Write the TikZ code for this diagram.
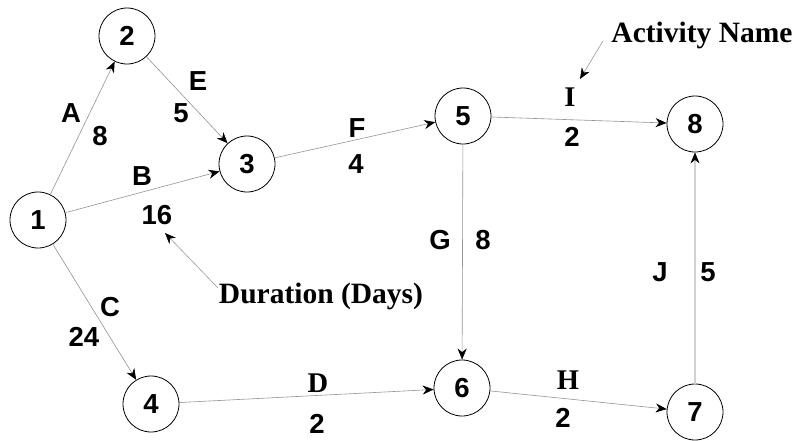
\documentclass[tikz,border=0pt]{standalone}
\usepackage{fontspec}
\setmainfont{Liberation Serif}
\setsansfont{Liberation Sans}
\usetikzlibrary{arrows.meta}
\tikzset{
  event/.style={circle, draw=black, line width=0.8pt, minimum size=56pt, inner sep=0pt,
    font=\fontsize{27.5}{27.5}\sffamily\bfseries},
  act/.style={draw=gray!85, line width=0.6pt,
    -{Stealth[length=11pt,width=9pt,inset=3.5pt,black]}},
  actlight/.style={draw=gray!35, line width=1.4pt,
    -{Stealth[length=11pt,width=9pt,inset=3.5pt,black,line width=0.6pt]}},
  note/.style={draw=gray!80, line width=0.6pt,
    -{Stealth[length=11pt,width=9pt,inset=3.5pt,black]}},
  lbl/.style={inner sep=0pt, font=\fontsize{27.5}{27.5}\sffamily\bfseries},
  lblr/.style={inner sep=0pt, font=\fontsize{28.5}{28.5}\rmfamily\bfseries},
  calltext/.style={inner sep=0pt, anchor=base, font=\fontsize{29.5}{29.5}\rmfamily\bfseries},
}
\begin{document}
\begin{tikzpicture}[x=1pt,y=-1pt]
\useasboundingbox (0,0) rectangle (796,440);

% events
\node[event] (n1) at (38,220) {1};
\node[event] (n2) at (127,36) {2};
\node[event] (n3) at (247,164) {3};
\node[event] (n4) at (151,404) {4};
\node[event] (n5) at (463,116) {5};
\node[event] (n6) at (462,388) {6};
\node[event] (n7) at (695,412) {7};
\node[event] (n8) at (695,124) {8};

% activities
\draw[act] (n1) -- (n2);
\draw[act] (n1) -- (n3);
\draw[act] (n1) -- (n4);
\draw[act] (n2) -- (n3);
\draw[act] (n3) -- (n5);
\draw[act] (n4) -- (n6);
\draw[act] (n5) -- (n8);
\draw[act] (n5) -- (n6);
\draw[act] (n6) -- (n7);
\draw[actlight] (n7) -- (n8);

% activity names and durations
\node[lbl] (lA) at (71,113) {A};
\node[lbl] (dA) at (100,136) {8};
\node[lbl] (lE) at (198,81) {E};
\node[lbl] (dE) at (181,113) {5};
\node[lbl] (lB) at (142,176) {B};
\node[lbl] (dB) at (157,215) {16};
\node[lbl] (lC) at (110,307) {C};
\node[lbl] (dC) at (84,337) {24};
\node[lbl] (lF) at (357,128) {F};
\node[lbl] (dF) at (356,164) {4};
\node[lblr] (lD) at (318,383) {D};
\node[lbl] (dD) at (317,424) {2};
\node[lbl] (lG) at (440,240) {G};
\node[lbl] (dG) at (483,240) {8};
\node[lblr] (lI) at (570,97) {I};
\node[lbl] (dI) at (572,137) {2};
\node[lblr] (lH) at (568,380) {H};
\node[lbl] (dH) at (563,418) {2};
\node[lbl] (lJ) at (660,272) {J};
\node[lbl] (dJ) at (708,272) {5};

% callouts
\node[calltext] (an) at (702,42) {Activity Name};
\node[calltext] (dd) at (321,303) {Duration (Days)};
\coordinate (anS) at (603,41);
\coordinate (anE) at (580,79);
\coordinate (ddS) at (218,288);
\coordinate (ddE) at (165,233);
\draw[note] (anS) -- (anE);
\draw[note] (ddS) -- (ddE);
\end{tikzpicture}
\end{document}
